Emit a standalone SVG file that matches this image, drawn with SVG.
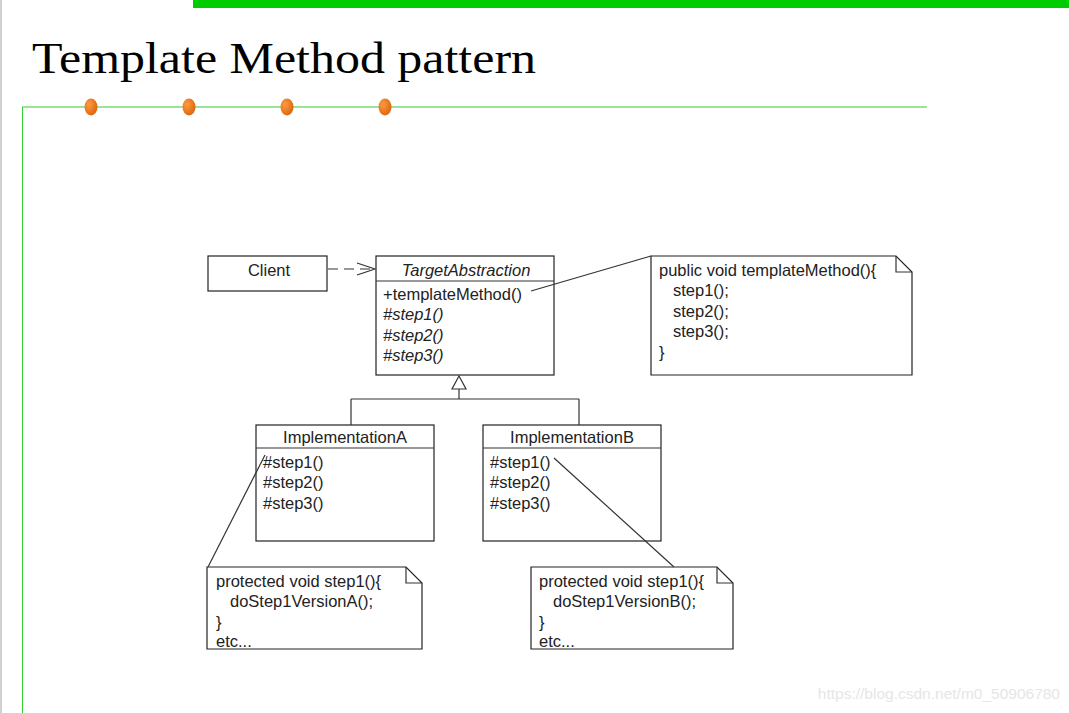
<svg xmlns="http://www.w3.org/2000/svg" width="1069" height="713" viewBox="0 0 1069 713">
<defs>
<style>
.box{fill:#fff;stroke:#222;stroke-width:1.2}
.ln{fill:none;stroke:#333;stroke-width:1.2}
.t{font-family:"Liberation Sans",Arial,sans-serif;font-size:16.5px;fill:#222}
.i{font-style:italic}
.c{text-anchor:middle}
</style>
<radialGradient id="og" cx="0.35" cy="0.35" r="0.7">
<stop offset="0" stop-color="#ff9a40"/><stop offset="1" stop-color="#d9650f"/>
</radialGradient>
<marker id="open" viewBox="0 0 20 14" refX="19" refY="7" markerWidth="20" markerHeight="14" markerUnits="userSpaceOnUse" orient="auto">
<path d="M1,1 L19,7 L1,13" fill="none" stroke="#333" stroke-width="1.3"/>
</marker>
</defs>
<rect width="1069" height="713" fill="#fff"/>
<rect x="0" y="0" width="2" height="713" fill="#d0d0d0"/>
<rect x="193" y="0" width="876" height="8" fill="#00cc00"/>
<text x="32" y="73" font-family="'Liberation Serif','DejaVu Serif',serif" font-size="44" fill="#000" textLength="504" lengthAdjust="spacingAndGlyphs">Template Method pattern</text>
<line x1="22" y1="107" x2="927" y2="107" stroke="#33cc33" stroke-width="1"/>
<line x1="22.5" y1="107" x2="22.5" y2="713" stroke="#33cc33" stroke-width="1"/>
<g>
<ellipse cx="91" cy="107" rx="6.5" ry="8.5" fill="url(#og)"/>
<ellipse cx="189" cy="107" rx="6.5" ry="8.5" fill="url(#og)"/>
<ellipse cx="287" cy="107" rx="6.5" ry="8.5" fill="url(#og)"/>
<ellipse cx="385" cy="107" rx="6.5" ry="8.5" fill="url(#og)"/>
</g>
<g id="client">
<rect class="box" x="208" y="256" width="119" height="35"/>
<text class="t c" x="269" y="276">Client</text>
</g>
<g id="target">
<rect class="box" x="376" y="256" width="178" height="119"/>
<line class="ln" x1="376" y1="281" x2="554" y2="281"/>
<text class="t c i" x="466" y="276">TargetAbstraction</text>
<text class="t" x="383" y="300">+templateMethod()</text>
<text class="t i" x="383" y="320">#step1()</text>
<text class="t i" x="383" y="341">#step2()</text>
<text class="t i" x="383" y="361">#step3()</text>
</g>
<g id="note-template">
<path class="box" d="M651,256 H896 L912,272 V375 H651 Z"/>
<path class="ln" d="M896,256 V272 H912"/>
<text class="t" x="659" y="276">public void templateMethod(){</text>
<text class="t" x="673" y="296">step1();</text>
<text class="t" x="673" y="317">step2();</text>
<text class="t" x="673" y="337">step3();</text>
<text class="t" x="659" y="358">}</text>
</g>
<g id="implA">
<rect class="box" x="256" y="425" width="178" height="116"/>
<line class="ln" x1="256" y1="448" x2="434" y2="448"/>
<text class="t c" x="345" y="443">ImplementationA</text>
<text class="t" x="263" y="468">#step1()</text>
<text class="t" x="263" y="488">#step2()</text>
<text class="t" x="263" y="509">#step3()</text>
</g>
<g id="implB">
<rect class="box" x="483" y="425" width="178" height="116"/>
<line class="ln" x1="483" y1="448" x2="661" y2="448"/>
<text class="t c" x="572" y="443">ImplementationB</text>
<text class="t" x="490" y="468">#step1()</text>
<text class="t" x="490" y="488">#step2()</text>
<text class="t" x="490" y="509">#step3()</text>
</g>
<g id="note-A">
<path class="box" d="M207,567 H406 L422,583 V649 H207 Z"/>
<path class="ln" d="M406,567 V583 H422"/>
<text class="t" x="216" y="587">protected void step1(){</text>
<text class="t" x="230" y="607">doStep1VersionA();</text>
<text class="t" x="216" y="628">}</text>
<text class="t" x="216" y="647">etc...</text>
</g>
<g id="note-B">
<path class="box" d="M531,567 H717 L733,583 V649 H531 Z"/>
<path class="ln" d="M717,567 V583 H733"/>
<text class="t" x="539" y="587">protected void step1(){</text>
<text class="t" x="553" y="607">doStep1VersionB();</text>
<text class="t" x="539" y="628">}</text>
<text class="t" x="539" y="647">etc...</text>
</g>
<g id="connectors">
<line class="ln" x1="328" y1="269" x2="375" y2="269" stroke-dasharray="10,6" marker-end="url(#open)"/>
<line class="ln" x1="531" y1="291" x2="651" y2="256"/>
<path class="ln" d="M459,376 L466,389 L452,389 Z" fill="#fff"/>
<path class="ln" d="M459,389 V399 M351,399 H579 M351,399 V425 M579,399 V425"/>
<line class="ln" x1="265" y1="455" x2="208" y2="567"/>
<line class="ln" x1="554" y1="458" x2="674" y2="567"/>
</g>
<text x="1060" y="699" font-family="'Liberation Sans',Arial,sans-serif" font-size="15.5" fill="#e6e6e6" text-anchor="end">https://blog.csdn.net/m0_50906780</text>
</svg>
